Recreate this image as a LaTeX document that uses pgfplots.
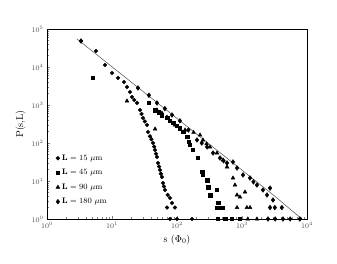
\documentclass[border=0pt]{standalone}
\usepackage{pgfplots}
\pgfplotsset{compat=1.18}
\usetikzlibrary{calc}
\begin{document}
\begin{tikzpicture}
\begin{axis}[
  scale only axis, width=260pt, height=190pt,
  xmode=log, ymode=log,
  xmin=1, xmax=10000, ymin=1, ymax=100000,
  tick align=inside, tick pos=left,
  major tick length=3.5pt, minor tick length=2pt,
  tick label style={font=\scriptsize, text=black!70},
  axis line style={line width=0.7pt},
  xlabel={s ($\Phi_0$)}, ylabel={P(s,L)},
  label style={font=\normalsize},
  xlabel style={yshift=1pt},
  ylabel style={yshift=-1pt},
  legend style={draw=none, fill=none, font=\footnotesize, at={(0.03,0.355)}, anchor=north west, row sep=3.5pt, inner sep=1pt},
  legend cell align=left,
  every axis plot/.append style={only marks, mark options={fill=black, draw=black}},
]
\addplot[mark=*, mark size=1.9pt] coordinates {
(3.33,48300) (5.67,26400) (7.80,11300) (10.0,6950) (12.4,5140) (15.3,4030)
(17.0,2980) (18.9,2200) (20.3,1625) (22,1350) (24.3,1130) (27.0,738) (28.5,580) (30.0,455)
(32,370) (34.5,298) (35.8,195) (38.4,150) (40.5,125) (42.8,100) (44.5,80) (45.9,65.5) (47.5,52) (49.2,42.8)
(51.0,29.8) (53,24) (54.8,19.5) (56.5,15.5) (58.7,12.7) (60.9,8.86) (63,7.2) (65.3,5.80) (72,4.3) (78.0,3.57)
(83.8,2.64) (70.2,2) (93.1,2) (78,1) (100,1) (170,1)
};
\addlegendentry{$\mathbf{L} = 15\ \mu$m}
\addplot[mark=square*, mark size=1.7pt] coordinates {
(5.1,5140) (37,1130) (45.9,738) (52,640) (58.7,545) (70.2,455) (78,390) (86.8,336)
(98,290) (111,248) (124,195) (143,144) (150,110) (158,88.6) (176,65.5) (210,40.3)
(243,17.3) (251,14.4) (290,10.6) (300,6.95) (322,4.28) (412,5.80)
(428,2.64) (412,2) (459,2) (510,2) (427,1) (550,1) (700,1) (930,1)
};
\addlegendentry{$\mathbf{L} = 45\ \mu$m}
\addplot[mark=triangle*, mark size=2.2pt] coordinates {
(17.0,1274) (46,233) (49.2,738) (58.7,614) (70,480) (93,298)
(133,220) (180,190) (226,162) (251,120) (285,95) (322,78.5) (412,54.6) (510,35.7)
(588,23.4) (727,12.0) (780,7.85) (838,4.28) (931,3.79) (1112,5.13)
(838,2) (1190,2) (1330,2) (1230,1) (1700,1)
};
\addlegendentry{$\mathbf{L} = 90\ \mu$m}
\addplot[mark=diamond*, mark size=2.4pt] coordinates {
(3.33,48300) (25.1,2800) (37,1800) (49.2,1130) (65,800) (83.8,545) (111,383) (150,220) (203,120)
(240,100) (290,78.5) (358,54.6) (459,40.3) (520,34) (588,29.8) (727,31.6) (838,22.0)
(1036,14.4) (1327,12.0) (1500,9.5) (1700,7.85) (2100,5.80) (2700,6.5) (2425,4.28)
(3000,3.16) (2700,2) (3200,2) (4100,2) (2510,1) (3240,1) (4270,1)
(5500,1) (7760,1)
};
\addlegendentry{$\mathbf{L} = 180\ \mu$m}
\addplot[sharp plot, no marks, draw=black!70, line width=0.5pt, forget plot] coordinates {
(2.88,54954) (100,443) (3162,4.04) (6000,1.6) (8375,1.0)
};
\end{axis}
\path ($(current axis.south west)+(-47pt,-45pt)$) rectangle ($(current axis.north east)+(30pt,29pt)$);
\end{tikzpicture}
\end{document}
